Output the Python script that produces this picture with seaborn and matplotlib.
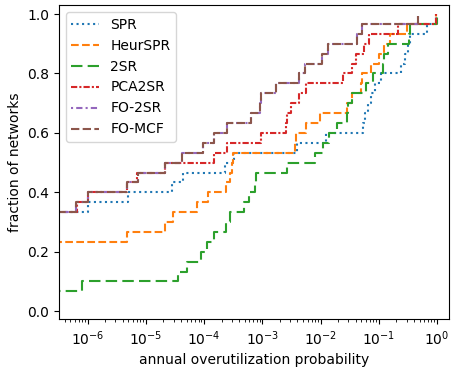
import numpy as np
import pandas as pd
import matplotlib
matplotlib.use("Agg")
import matplotlib.pyplot as plt
import seaborn as sns

# annual overutilization probability per network (0 = never overutilized)
spr = [0.0] * 10 + [1.0e-6, 4.9e-6, 2.8e-5, 4.4e-5, 2.3e-4, 3.2e-4, 4.0e-3, 1.26e-2,
                    5.3e-2, 5.8e-2, 6.5e-2, 7.2e-2, 8.5e-2, 0.107, 0.24, 0.28, 0.32,
                    0.35, 0.66, 0.95]
heurspr = [0.0] * 7 + [4.8e-6, 2.1e-5, 2.95e-5, 7.4e-5, 1.17e-4, 2.35e-4, 2.8e-4,
                       2.95e-4, 3.1e-4, 3.65e-3, 3.8e-3, 5.6e-3, 9.8e-3, 2.8e-2,
                       3.4e-2, 4.9e-2, 5.1e-2, 7.2e-2, 0.10, 0.123, 0.155, 0.31, 0.95]
two_sr = [0.0] * 2 + [7.9e-7, 3.55e-5, 5.1e-5, 8.7e-5, 1.12e-4, 1.48e-4, 2.4e-4,
                      2.75e-4, 4.8e-4, 5.9e-4, 7.4e-4, 7.8e-4, 2.7e-3, 7.9e-3,
                      1.1e-2, 1.38e-2, 1.9e-2, 2.8e-2, 3.0e-2, 3.5e-2, 6.0e-2,
                      7.9e-2, 0.117, 0.123, 0.143, 0.33, 0.35, 0.98]
pca2sr = [0.0] * 10 + [6.5e-7, 1.0e-6, 4.8e-6, 7.1e-6, 2.15e-5, 1.45e-4, 2.5e-4,
                       9.5e-4, 2.55e-3, 2.65e-3, 3.1e-3, 4.3e-3, 5.6e-3, 2.45e-2,
                       3.4e-2, 4.1e-2, 5.5e-2, 6.8e-2, 0.21, 0.95]
fo_mcf = [0.0] * 10 + [6.2e-7, 1.0e-6, 4.8e-6, 7.2e-6, 2.15e-5, 4.2e-5, 9.7e-5,
                       1.48e-4, 2.45e-4, 6.5e-4, 9.1e-4, 9.5e-4, 1.74e-3, 4.2e-3,
                       5.4e-3, 1.07e-2, 1.35e-2, 4.2e-2, 5.2e-2, 0.47]
fo_2sr = list(fo_mcf)

labels = ["SPR", "HeurSPR", "2SR", "PCA2SR", "FO-2SR", "FO-MCF"]
series = [spr, heurspr, two_sr, pca2sr, fo_2sr, fo_mcf]
x_ticks = [1e-6, 1e-5, 1e-4, 1e-3, 1e-2, 1e-1, 1e0]
y_ticks = [0.0, 0.2, 0.4, 0.6, 0.8, 1.0]

colors = sns.color_palette("tab10", 6)
styles = [":", "--", (0, (5.5, 2.5)), (0, (3, 1, 1, 1)), (0, (1, 1.5, 3, 1.5)),
          (0, (4, 1.6))]

FLOOR = 1e-9  # draw zero-probability networks below the visible axis range

fig = plt.figure(figsize=(4.53, 3.69), dpi=100)
ax = fig.add_axes([0.130, 0.135, 0.861, 0.851])

for lab, vals, c, ls in zip(labels, series, colors, styles):
    v = np.clip(np.asarray(vals, dtype=float), FLOOR, None)
    df = pd.DataFrame({"p": v})
    sns.ecdfplot(data=df, x="p", ax=ax, color=c, linestyle=ls, linewidth=1.5,
                 label=lab, log_scale=True)

ax.set_xlim(3.2e-7, 1.6)
ax.set_ylim(-0.027, 1.03)
ax.set_xticks(x_ticks)
ax.set_yticks(y_ticks)
ax.set_xlabel("annual overutilization probability")
ax.set_ylabel("fraction of networks")
ax.legend(loc="upper left")

fig.savefig("out.png", dpi=100)
